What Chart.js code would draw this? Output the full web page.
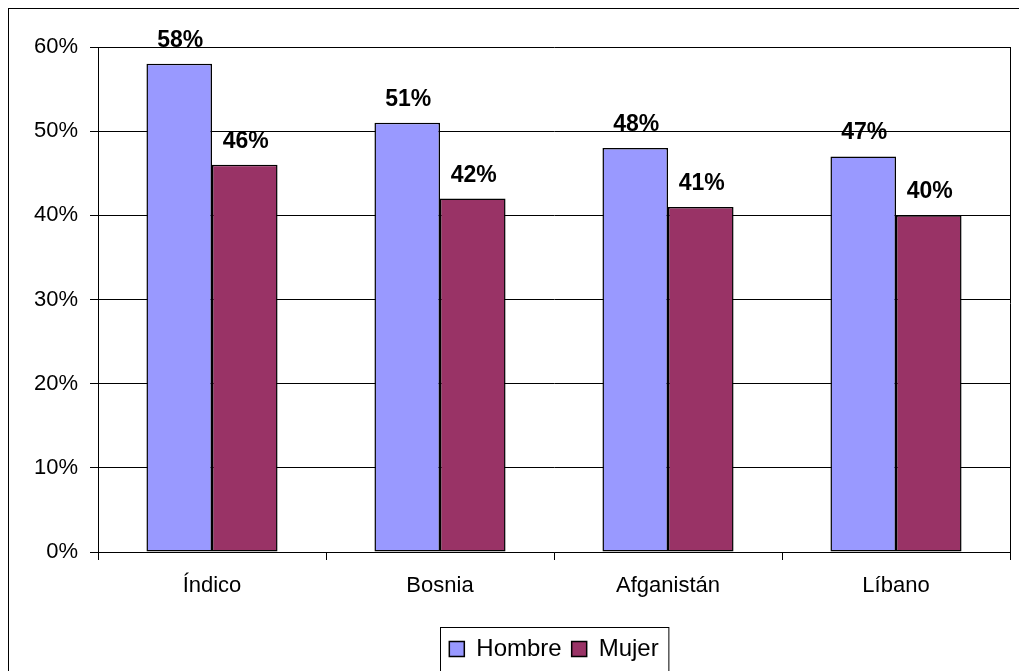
<!DOCTYPE html>
<html lang="es">
<head>
    <meta charset="UTF-8">
    <title>Hombre / Mujer</title>
    <script src="https://cdn.jsdelivr.net/npm/chart.js"></script>
    <style>
        body { margin: 0; background: #fff; }
        .chart-box { width: 1019px; height: 671px; }
    </style>
</head>
<body>
    <div class="chart-box">
        <canvas id="barChart"></canvas>
    </div>

    <script>
        const FONT = "Arial, 'Liberation Sans', sans-serif";

        // Data
        const categories = ['Índico', 'Bosnia', 'Afganistán', 'Líbano'];
        const hombre = [58, 51, 48, 47];
        const mujer = [46, 42, 41, 40];
        const yTicks = [0, 10, 20, 30, 40, 50, 60];

        // Outer frame, plot border, legend frame and value labels
        const decorations = {
            id: 'decorations',
            beforeDraw(chart) {
                const ctx = chart.ctx;
                ctx.save();
                ctx.fillStyle = '#fff';
                ctx.fillRect(0, 0, chart.width, chart.height);
                ctx.strokeStyle = '#000';
                ctx.lineWidth = 1;
                ctx.strokeRect(8.5, 8.5, chart.width + 40, chart.height + 40);
                ctx.restore();
            },
            afterDraw(chart) {
                const ctx = chart.ctx;
                const a = chart.chartArea;
                ctx.save();
                ctx.strokeStyle = '#000';
                ctx.lineWidth = 1;
                // right edge of the plot area
                ctx.beginPath();
                ctx.moveTo(Math.round(a.right) + 0.5, a.top);
                ctx.lineTo(Math.round(a.right) + 0.5, a.bottom + 8);
                ctx.stroke();

                // legend frame
                const boxes = chart.legend.legendHitBoxes;
                if (boxes && boxes.length) {
                    const left = Math.min(...boxes.map(b => b.left)) - 9;
                    const right = Math.max(...boxes.map(b => b.left + b.width)) + 10;
                    const top = boxes[0].top - 10;
                    ctx.strokeRect(Math.round(left) + 0.5, Math.round(top) + 0.5, right - left, 60);
                }

                // value labels above bars
                ctx.fillStyle = '#000';
                ctx.font = 'bold 23px ' + FONT;
                ctx.textAlign = 'center';
                ctx.textBaseline = 'alphabetic';
                chart.data.datasets.forEach((ds, i) => {
                    chart.getDatasetMeta(i).data.forEach((bar, j) => {
                        ctx.fillText(ds.data[j] + '%', bar.x + 1, bar.y - 17);
                    });
                });
                ctx.restore();
            }
        };

        const chart = new Chart(document.getElementById('barChart').getContext('2d'), {
            type: 'bar',
            data: {
                labels: categories,
                datasets: [
                    {
                        label: 'Hombre',
                        data: hombre,
                        backgroundColor: '#9999FF',
                        borderColor: '#000',
                        borderWidth: 1.5,
                        borderSkipped: false
                    },
                    {
                        label: 'Mujer',
                        data: mujer,
                        backgroundColor: '#993366',
                        borderColor: '#000',
                        borderWidth: 1.5,
                        borderSkipped: false
                    }
                ]
            },
            options: {
                responsive: true,
                maintainAspectRatio: false,
                animation: false,
                categoryPercentage: 0.575,
                barPercentage: 1,
                layout: { padding: { top: 47, right: 9, left: 0, bottom: 0 } },
                plugins: {
                    tooltip: { enabled: false },
                    legend: {
                        position: 'bottom',
                        fullSize: false,
                        labels: {
                            color: '#000',
                            font: { family: FONT, size: 24 },
                            boxWidth: 15,
                            boxHeight: 15,
                            padding: 10
                        }
                    }
                },
                scales: {
                    x: {
                        grid: {
                            offset: true,
                            drawOnChartArea: false,
                            color: '#000',
                            tickLength: 8
                        },
                        border: { color: '#000', width: 1 },
                        ticks: {
                            color: '#000',
                            font: { family: FONT, size: 22 },
                            padding: 13,
                            maxRotation: 0
                        },
                        afterFit(scale) { scale.height = 75; }
                    },
                    y: {
                        min: 0,
                        max: 60,
                        afterBuildTicks(scale) {
                            scale.ticks = yTicks.map(v => ({ value: v }));
                        },
                        grid: {
                            color: '#000',
                            tickLength: 8
                        },
                        border: { color: '#000', width: 1 },
                        ticks: {
                            color: '#000',
                            font: { family: FONT, size: 22 },
                            padding: 12,
                            callback: v => v + '%'
                        },
                        afterFit(scale) { scale.width = 98; }
                    }
                }
            },
            plugins: [decorations]
        });
    </script>
</body>
</html>
